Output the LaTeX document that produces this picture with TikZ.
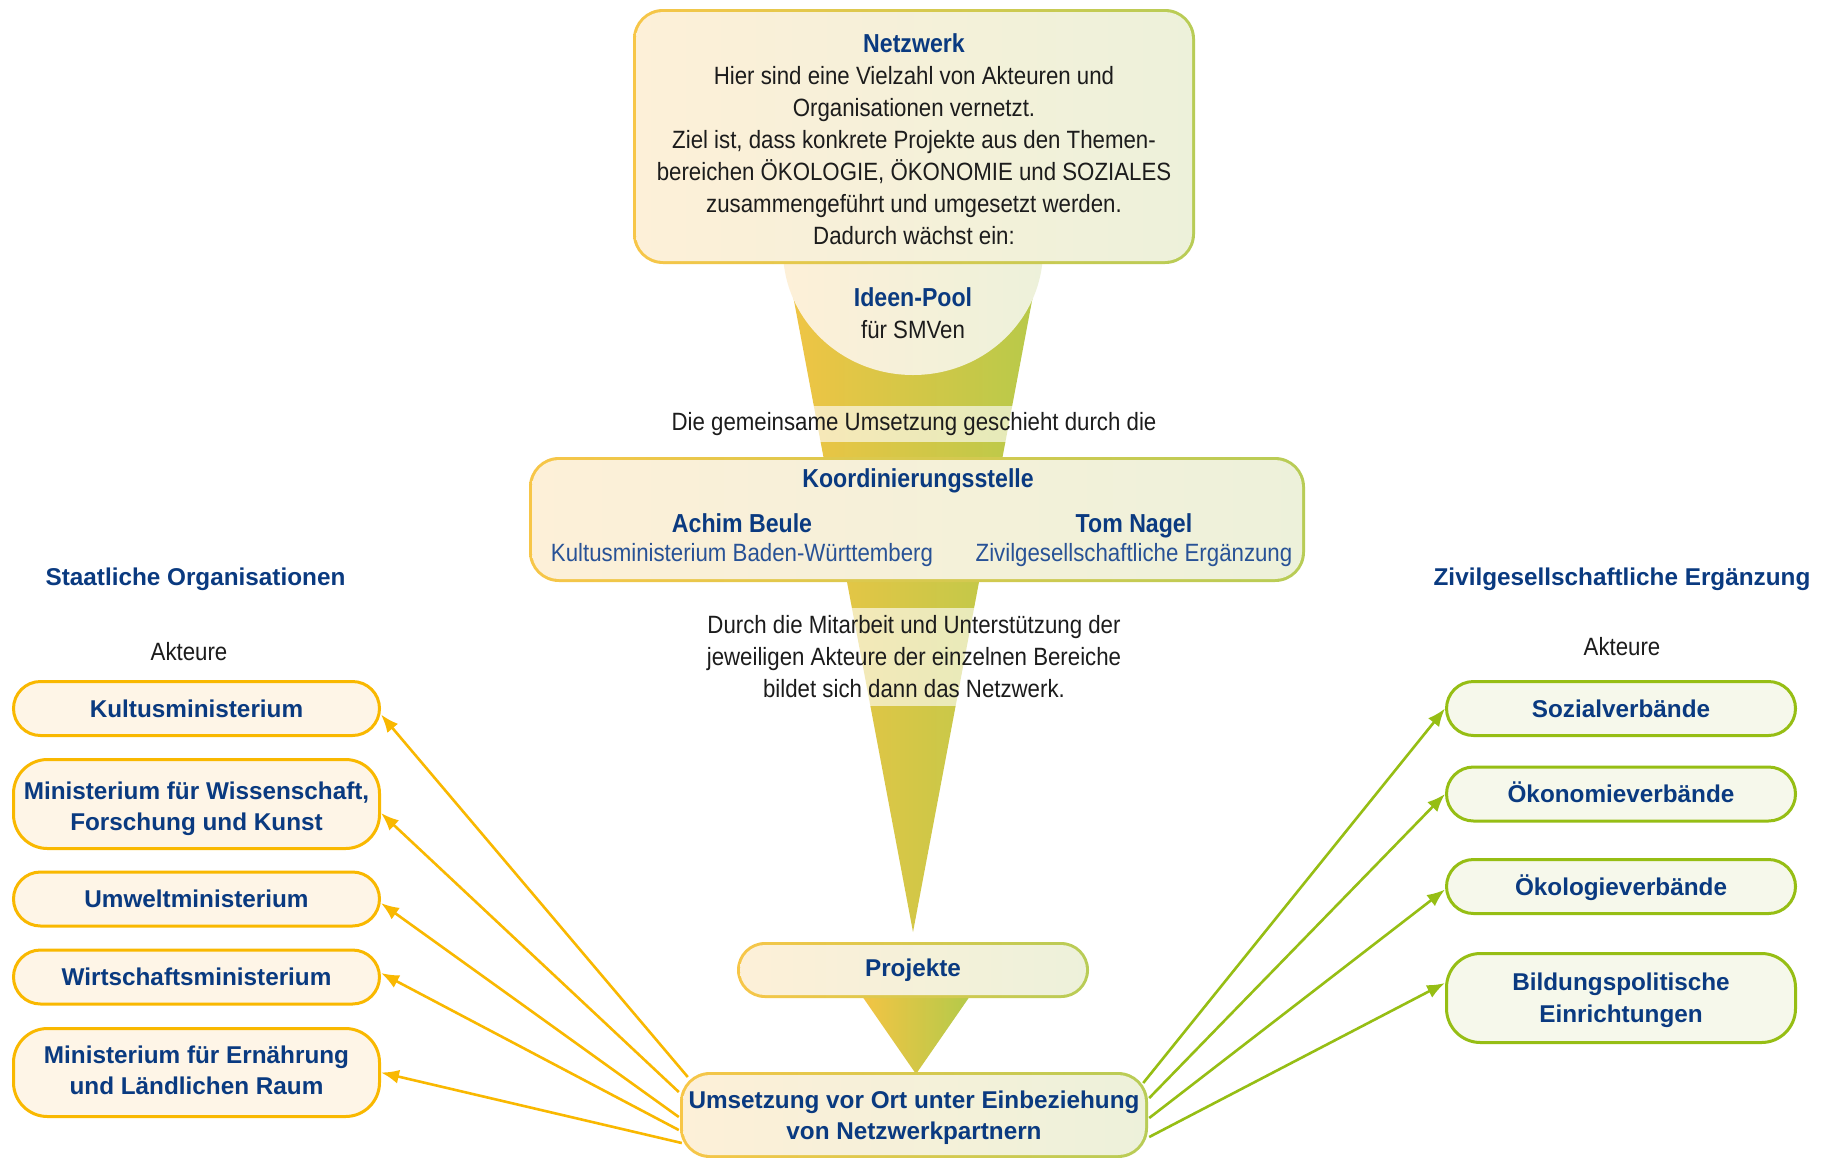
\documentclass[tikz,border=0pt]{standalone}
\usepackage{fontspec}
\setmainfont{Liberation Sans}
\newfontfamily\dgCond[FakeStretch=0.89]{Liberation Sans}
\usetikzlibrary{arrows.meta,calc}
\definecolor{navy}{RGB}{10,58,128}
\definecolor{subblue}{RGB}{40,82,150}
\definecolor{bodytxt}{RGB}{28,28,28}
\definecolor{yelB}{RGB}{249,184,0}
\definecolor{yelF}{RGB}{254,245,231}
\definecolor{grnB}{RGB}{150,190,20}
\definecolor{grnF}{RGB}{246,248,235}
\definecolor{gbL}{RGB}{247,198,72}
\definecolor{gbR}{RGB}{184,204,86}
\definecolor{gfL}{RGB}{253,240,216}
\definecolor{gfR}{RGB}{237,241,218}
\definecolor{fuL}{RGB}{243,196,68}
\definecolor{fuR}{RGB}{180,202,74}
\newcommand\dgBodyFont{\dgCond\fontsize{25}{32}\selectfont}
\newcommand\dgHeadFont{\dgCond\bfseries\fontsize{26}{32}\selectfont}
\newcommand\dgBoxFont{\normalfont\bfseries\fontsize{24.3}{31.5}\selectfont}
\tikzset{
  gbox/.style={rectangle, rounded corners=#1, inner sep=0pt, left color=gbL, right color=gbR,
    path picture={\shade[left color=gfL, right color=gfR, rounded corners=#1-3pt]
      ($(path picture bounding box.north west)+(3pt,-3pt)$) rectangle
      ($(path picture bounding box.south east)+(-3pt,3pt)$);}},
  bodytext/.style={font=\dgBodyFont, text=bodytxt, align=center, inner sep=0pt},
  headtext/.style={font=\dgHeadFont, text=navy, inner sep=0pt},
  subtext/.style={font=\dgBodyFont, text=subblue, inner sep=0pt},
  boxtext/.style={font=\dgBoxFont, text=navy, align=center, inner sep=0pt},
  lbox/.style={rectangle, rounded corners=27pt, draw=yelB, fill=yelF, line width=3pt,
    minimum width=366pt, minimum height=54pt, font=\dgBoxFont, text=navy, align=center,
    text height=17.6pt, text depth=0pt, inner sep=0pt},
  lboxtwo/.style={rectangle, rounded corners=34pt, draw=yelB, fill=yelF, line width=3pt,
    minimum width=366pt, inner sep=0pt},
  rbox/.style={lbox, draw=grnB, fill=grnF, minimum width=349pt},
  rboxtwo/.style={lboxtwo, draw=grnB, fill=grnF, minimum width=349pt},
  larrow/.style={draw=yelB, line width=2.6pt, -{Latex[length=18pt,width=14pt]}},
  rarrow/.style={draw=grnB, line width=2.6pt, -{Latex[length=18pt,width=14pt]}},
  band/.style={fill=white, fill opacity=0.62, text opacity=1, inner xsep=6pt}
}
\begin{document}
\begin{tikzpicture}[x=1pt,y=-1pt]
\fill[white] (0,0) rectangle (1822,1157);
\useasboundingbox (0,0) rectangle (1822,1157);

% funnel and ideas pool
\shade[left color=fuL, right color=fuR] (775,200) -- (1051,200) -- (913,932) -- cycle;
\shade[left color=gfL, right color=gfR] (913,250) ellipse [x radius=130pt, y radius=125pt];

% Netzwerk
\node[gbox=30pt, minimum width=562pt, minimum height=255pt] (netzwerk) at (914,136.5) {};
\node[bodytext] (netzText) at (914,139) {{\dgHeadFont\color{navy}Netzwerk}\\
Hier sind eine Vielzahl von Akteuren und\\
Organisationen vernetzt.\\
Ziel ist, dass konkrete Projekte aus den Themen-\\
bereichen ÖKOLOGIE, ÖKONOMIE und SOZIALES\\
zusammengeführt und umgesetzt werden.\\
Dadurch wächst ein:};

\node[bodytext] (ideen) at (913,313) {{\dgHeadFont\color{navy}Ideen-Pool}\\für SMVen};

\node[bodytext, band, inner ysep=6.5pt] (gemeinsam) at (914,424) {Die gemeinsame Umsetzung geschieht durch die};

% Koordinierungsstelle
\node[gbox=30pt, minimum width=776pt, minimum height=125pt] (koord) at (917,519.5) {};
\node[headtext, anchor=base] (koordTitle) at (918,487) {Koordinierungsstelle};
\node[headtext, anchor=base] (beule) at (742,532) {Achim Beule};
\node[subtext, anchor=base] (beuleSub) at (742,561) {Kultusministerium Baden-Württemberg};
\node[headtext, anchor=base] (nagel) at (1134,532) {Tom Nagel};
\node[subtext, anchor=base] (nagelSub) at (1134,561) {Zivilgesellschaftliche Ergänzung};

\node[bodytext, band, inner ysep=8pt] (durch) at (914,657) {Durch die Mitarbeit und Unterstützung der\\
jeweiligen Akteure der einzelnen Bereiche\\
bildet sich dann das Netzwerk.};

% Projekte and triangle
\shade[left color=fuL, right color=fuR] (862,996) -- (970,996) -- (916,1074) -- cycle;
\node[gbox=28pt, minimum width=352pt, minimum height=56pt, font=\dgBoxFont, text=navy] (projekte) at (913,970) {Projekte};

% side headings
\node[font=\dgBoxFont, text=navy, anchor=base, inner sep=0pt] (staatlich) at (195.5,585.7) {Staatliche Organisationen};
\node[font=\dgBodyFont, text=bodytxt, anchor=base, inner sep=0pt] (akteureL) at (189,660) {Akteure};
\node[font=\dgBoxFont, text=navy, anchor=base, inner sep=0pt] (zivil) at (1622,585.7) {Zivilgesellschaftliche Ergänzung};
\node[font=\dgBodyFont, text=bodytxt, anchor=base, inner sep=0pt] (akteureR) at (1622,655) {Akteure};

% left boxes
\node[lbox] (kultus) at (196.5,708.5) {Kultusministerium};
\node[lboxtwo, minimum height=89pt] (wiss) at (196.5,804) {};
\node[boxtext] (wissText) at (196.5,809) {Ministerium für Wissenschaft,\\Forschung und Kunst};
\node[lbox] (umwelt) at (196.5,899) {Umweltministerium};
\node[lbox] (wirtschaft) at (196.5,977) {Wirtschaftsministerium};
\node[lboxtwo, minimum height=88pt] (ernaehrung) at (196.5,1072.5) {};
\node[boxtext] (ernaehrungText) at (196.5,1070.5) {Ministerium für Ernährung\\und Ländlichen Raum};

% right boxes
\node[rbox] (sozial) at (1621,708.5) {Sozialverbände};
\node[rbox] (oekonomie) at (1621,794) {Ökonomieverbände};
\node[rbox] (oekologie) at (1621,886.5) {Ökologieverbände};
\node[rboxtwo, minimum height=89pt] (bildung) at (1621,998) {};
\node[boxtext] (bildungText) at (1621,1000.5) {Bildungspolitische\\Einrichtungen};

% Umsetzung
\node[gbox=30pt, minimum width=468pt, minimum height=86pt] (umsetzung) at (914,1115) {};
\node[boxtext] (umsetzungText) at (914,1117.5) {Umsetzung vor Ort unter Einbeziehung\\von Netzwerkpartnern};

% arrows
\draw[larrow] ($(umsetzung.west)+(8,-38)$) -- ($(kultus.east)+(0,6)$);
\draw[larrow] ($(umsetzung.west)+(-1,-23)$) -- ($(wiss.east)+(0,9)$);
\draw[larrow] ($(umsetzung.west)+(-1,2)$) -- ($(umwelt.east)+(0,4)$);
\draw[larrow] ($(umsetzung.west)+(-1,15)$) -- ($(wirtschaft.east)+(0,-4)$);
\draw[larrow] ($(umsetzung.west)+(2,28)$) -- (ernaehrung.east);

\draw[rarrow] ($(umsetzung.east)+(-5,-32)$) -- (sozial.west);
\draw[rarrow] ($(umsetzung.east)+(1,-17)$) -- (oekonomie.west);
\draw[rarrow] ($(umsetzung.east)+(1,3)$) -- ($(oekologie.west)+(0,3)$);
\draw[rarrow] ($(umsetzung.east)+(1,22)$) -- ($(bildung.west)+(0,-15)$);
\end{tikzpicture}
\end{document}
